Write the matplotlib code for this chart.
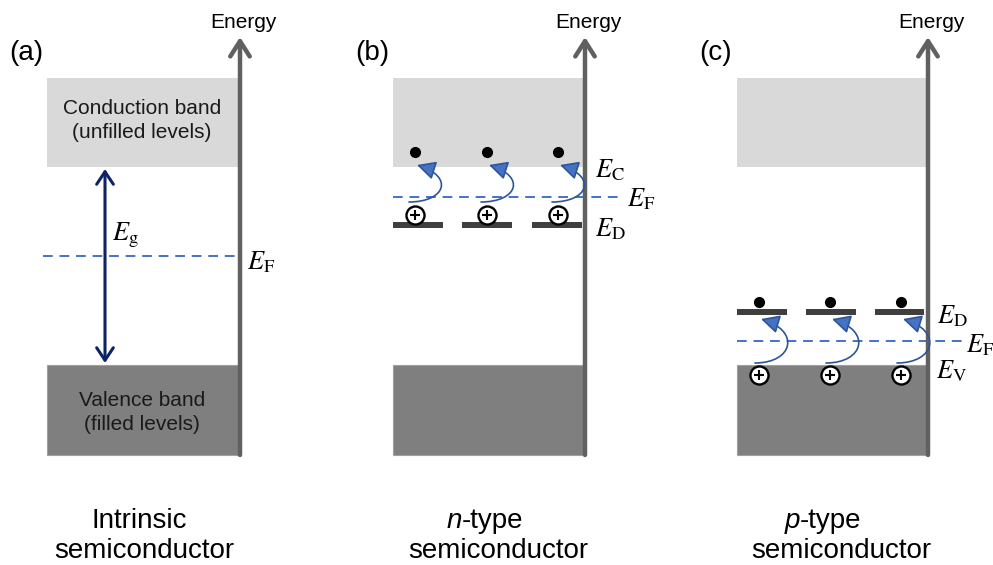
import matplotlib.pyplot as plt
from matplotlib.patches import Rectangle, FancyArrowPatch
from matplotlib.path import Path

plt.rcParams['mathtext.fontset'] = 'stix'
plt.rcParams['font.family'] = ['Liberation Sans', 'DejaVu Sans']

# levels on the drawing's vertical scale (top of figure = 0)
cb_bottom = 167     # bottom of conduction band
vb_top = 365        # top of valence band
band_top = 78
band_bottom = 455
fermi = [256, 197, 341]            # (a) intrinsic, (b) n-type, (c) p-type
impurity = [None, 225, 312]        # donor level in (b), acceptor level in (c)

tags = ['(a)', '(b)', '(c)']

# horizontal layout of each panel
left = [47, 393, 737]
axis_x = [240, 585, 928]
bars = [[], [(393, 443), (462, 512), (532, 582)], [(737, 787), (806, 856), (875, 924)]]
sites = [[], [415, 487, 558], [759, 830, 901]]

c_light = '#d9d9d9'
c_dark = '#7f7f7f'
c_axis = '#606060'
c_blue = '#4472c4'
c_navy = '#0c2366'
c_text = '#1a1a1a'

fig = plt.figure(figsize=(9.93, 5.65), dpi=100)
ax = fig.add_axes([0, 0, 1, 1])
ax.set_xlim(0, 993)
ax.set_ylim(565, 0)
ax.axis('off')


def hop(p0, p3, bulge):
    # curved arrow: leaves p0 to the right, loops round and ends at p3
    (x0, y0), (x3, y3) = p0, p3
    verts = [(x0, y0), (x0 + bulge + 4, y0), (x3 + bulge + 6, y3 + 12), (x3, y3)]
    path = Path(verts, [Path.MOVETO, Path.CURVE4, Path.CURVE4, Path.CURVE4])
    ax.add_patch(FancyArrowPatch(path=path,
                                 arrowstyle='-|>,head_length=0.75,head_width=0.38',
                                 facecolor=c_blue, edgecolor='#2f5597', lw=1.2,
                                 mutation_scale=15, zorder=6))


for i in range(3):
    x0 = left[i]
    xa = axis_x[i]
    # bands
    ax.add_patch(Rectangle((x0, band_top), xa - x0, cb_bottom - band_top,
                           facecolor=c_light, edgecolor='none', zorder=1))
    ax.add_patch(Rectangle((x0, vb_top), xa - x0, band_bottom - vb_top,
                           facecolor=c_dark, edgecolor='#a0a0a0', lw=0.8, zorder=1))
    # energy axis
    ax.add_patch(FancyArrowPatch((xa, band_bottom), (xa, 37),
                                 arrowstyle='->,head_length=0.55,head_width=0.35',
                                 color=c_axis, lw=3.2, mutation_scale=20,
                                 shrinkA=0, shrinkB=0, zorder=4))
    ax.text(xa + 3, 23, 'Energy', fontsize=15, ha='center', va='center', zorder=5)
    ax.text(x0 - 38, 53, tags[i], fontsize=20, ha='left', va='center')

# (a) intrinsic
ax.text(142, 108, 'Conduction band', fontsize=15, ha='center', va='center', color=c_text)
ax.text(142, 132, '(unfilled levels)', fontsize=15, ha='center', va='center', color=c_text)
ax.text(142, 401, 'Valence band', fontsize=15, ha='center', va='center', color=c_text)
ax.text(142, 425, '(filled levels)', fontsize=15, ha='center', va='center', color=c_text)
ax.add_patch(FancyArrowPatch((105, cb_bottom + 2), (105, vb_top - 2),
                             arrowstyle='<->,head_length=0.45,head_width=0.3',
                             color=c_navy, lw=2.2, mutation_scale=20,
                             shrinkA=0, shrinkB=0, zorder=3))
ax.text(112, 235, r'$E_{\mathrm{g}}$', fontsize=19, ha='left', va='center')
ax.plot([43, axis_x[0]], [fermi[0], fermi[0]], ls=(0, (5, 3.5)), color=c_blue, lw=1.4, zorder=2)
ax.text(247, 262, r'$E_{\mathrm{F}}$', fontsize=19, ha='left', va='center')

# (b) n-type: donors give an electron to the conduction band
ax.plot([393, 622], [fermi[1], fermi[1]], ls=(0, (5, 3.5)), color=c_blue, lw=1.4, zorder=2)
for (a, b), s in zip(bars[1], sites[1]):
    ax.plot([a, b], [impurity[1], impurity[1]], color='#3f3f3f', lw=4.3, solid_capstyle='butt', zorder=3)
    ax.plot(s, impurity[1] - 10, 'o', ms=13, mfc='white', mec='black', mew=1.7, zorder=5)
    ax.plot(s, impurity[1] - 10, '+', ms=7.5, mec='black', mew=1.5, zorder=6)
    ax.plot(s, 152, 'o', ms=7, color='black', zorder=5)
    hop((s - 6, 202), (s + 2, 165), 32)
ax.text(595, 170, r'$E_{\mathrm{C}}$', fontsize=19, ha='left', va='center')
ax.text(627, 199, r'$E_{\mathrm{F}}$', fontsize=19, ha='left', va='center')
ax.text(595, 229, r'$E_{\mathrm{D}}$', fontsize=19, ha='left', va='center')

# (c) p-type: acceptors take an electron from the valence band
ax.plot([737, 962], [fermi[2], fermi[2]], ls=(0, (5, 3.5)), color=c_blue, lw=1.4, zorder=2)
for (a, b), s in zip(bars[2], sites[2]):
    ax.plot([a, b], [impurity[2], impurity[2]], color='#3f3f3f', lw=4.3, solid_capstyle='butt', zorder=3)
    ax.plot(s, impurity[2] - 10, 'o', ms=7, color='black', zorder=5)
    ax.plot(s, vb_top + 10, 'o', ms=13, mfc='white', mec='black', mew=1.7, zorder=5)
    ax.plot(s, vb_top + 10, '+', ms=7.5, mec='black', mew=1.5, zorder=6)
    hop((s - 4, vb_top - 2), (s + 2, impurity[2] + 7), 34)
ax.text(937, 316, r'$E_{\mathrm{D}}$', fontsize=19, ha='left', va='center')
ax.text(966, 345, r'$E_{\mathrm{F}}$', fontsize=19, ha='left', va='center')
ax.text(936, 371, r'$E_{\mathrm{V}}$', fontsize=19, ha='left', va='center')

# captions under each panel
ax.text(139, 521, 'Intrinsic', fontsize=20, ha='center', va='center')
ax.text(144, 551, 'semiconductor', fontsize=20, ha='center', va='center')
for k, cx in [('n', 485), ('p', 823)]:
    ax.text(cx - 23, 521, k, fontsize=20, style='italic', ha='right', va='center')
    ax.text(cx - 23, 521, '-type', fontsize=20, ha='left', va='center')
ax.text(498, 551, 'semiconductor', fontsize=20, ha='center', va='center')
ax.text(841, 551, 'semiconductor', fontsize=20, ha='center', va='center')

fig.savefig('out.png', dpi=100)
